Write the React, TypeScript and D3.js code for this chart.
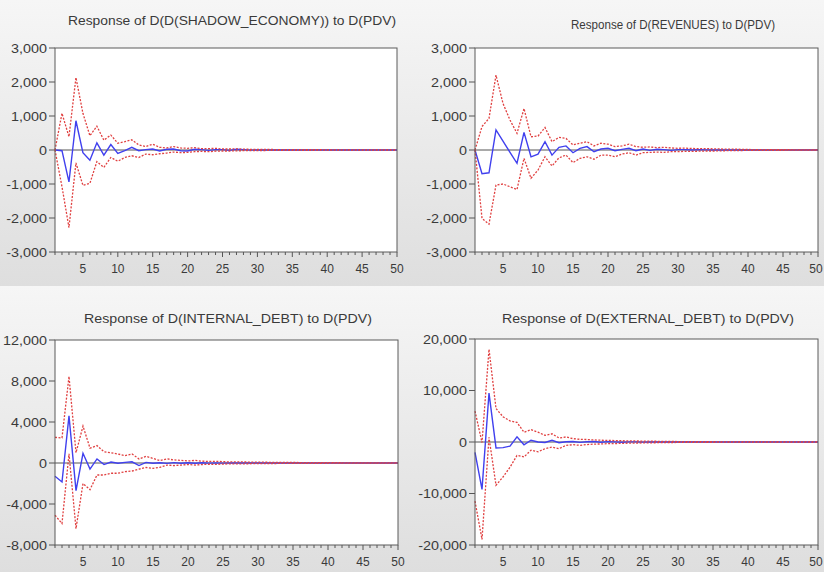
import React from "react";
import * as d3 from "d3";

// periods 1..50
const periods = d3.range(1, 51);

// Response of D(D(SHADOW_ECONOMY)) to D(PDV)
const shadowResp = [0, -20, -940, 860, -80, -300, 210, -150, 160, -100, -20, 80, -20, 10, 30, -30, 20, 30, -20, -30, 20, 10, -10, 10, 10, -10, 20, 10, -5, 5, 0, 0, 0, 0, 0, 0, 0, 0, 0, 0, 0, 0, 0, 0, 0, 0, 0, 0, 0, 0];
const shadowUpper = [0, 1080, 390, 2130, 1080, 420, 700, 290, 440, 200, 245, 300, 150, 100, 170, 80, 60, 100, 60, 50, 70, 40, 40, 50, 30, 30, 35, 25, 20, 20, 15, 15, 12, 12, 10, 10, 8, 8, 7, 6, 6, 5, 5, 4, 4, 4, 3, 3, 3, 3];
const shadowLower = [0, -1080, -2280, -380, -1040, -980, -340, -510, -220, -330, -220, -170, -220, -120, -140, -110, -90, -60, -80, -70, -50, -40, -50, -35, -30, -30, -25, -20, -20, -15, -15, -12, -12, -10, -10, -8, -8, -7, -6, -6, -5, -5, -4, -4, -4, -3, -3, -3, -3, -3];

// Response of D(REVENUES) to D(PDV)
const revResp = [0, -700, -670, 590, 260, -70, -390, 520, -200, -120, 245, -150, 80, 120, -80, 50, 100, -50, 30, 50, -20, 20, 50, -20, 30, -10, 20, 10, -10, 10, 10, 0, 10, 5, 0, 5, 0, 0, 0, 0, 0, 0, 0, 0, 0, 0, 0, 0, 0, 0];
const revUpper = [0, 690, 930, 2200, 1370, 880, 490, 1220, 390, 410, 660, 245, 370, 340, 150, 200, 245, 120, 200, 170, 100, 120, 170, 100, 80, 90, 70, 80, 60, 50, 55, 45, 40, 40, 35, 30, 25, 25, 20, 15, 12, 10, 10, 8, 8, 7, 6, 6, 5, 5];
const revLower = [0, -2010, -2180, -1030, -1000, -1080, -1160, -245, -830, -590, -200, -470, -230, -150, -370, -245, -200, -270, -150, -150, -200, -120, -80, -150, -80, -70, -60, -70, -50, -50, -40, -40, -35, -30, -30, -25, -20, -18, -15, -12, -10, -10, -8, -8, -7, -6, -6, -5, -5, -5];

// Response of D(INTERNAL_DEBT) to D(PDV)
const intResp = [-1300, -1850, 4600, -2700, 950, -600, 400, -150, 100, -30, 60, 120, -250, 60, -30, 20, -40, 40, -20, 30, -20, 20, -10, 15, -10, 10, -5, 10, -5, 5, 0, 0, 0, 0, 0, 0, 0, 0, 0, 0, 0, 0, 0, 0, 0, 0, 0, 0, 0, 0];
const intUpper = [2500, 2450, 8450, 1000, 3600, 1450, 1700, 1100, 1000, 880, 720, 880, 400, 650, 450, 230, 400, 300, 250, 200, 250, 180, 150, 170, 130, 110, 120, 100, 90, 80, 75, 65, 60, 55, 50, 45, 40, 35, 30, 28, 25, 22, 20, 18, 15, 12, 10, 10, 8, 8];
const intLower = [-5100, -5900, 900, -6400, -2000, -2600, -1170, -1170, -1000, -1000, -850, -780, -600, -430, -520, -420, -200, -250, -200, -150, -200, -150, -120, -130, -100, -90, -90, -80, -70, -60, -55, -50, -45, -40, -38, -35, -30, -28, -25, -22, -20, -18, -16, -14, -12, -10, -10, -8, -8, -7];

// Response of D(EXTERNAL_DEBT) to D(PDV)
const extResp = [-2000, -9200, 9500, -1150, -1100, -800, 1000, -550, 350, 0, -100, 330, -130, 50, 100, -80, 60, 100, -60, 80, 30, -40, 30, 20, -20, 15, 10, -10, 10, 5, 0, 0, 0, 0, 0, 0, 0, 0, 0, 0, 0, 0, 0, 0, 0, 0, 0, 0, 0, 0];
const extUpper = [6000, -100, 18000, 6500, 4900, 4100, 3800, 1900, 2400, 1900, 1300, 1600, 780, 980, 650, 520, 480, 400, 350, 300, 280, 250, 220, 200, 180, 160, 140, 120, 100, 90, 80, 70, 60, 50, 45, 40, 35, 30, 25, 22, 20, 18, 15, 12, 10, 10, 8, 8, 6, 6];
const extLower = [-11500, -18900, 900, -8400, -6800, -4900, -2600, -2900, -1600, -1900, -1300, -1000, -1300, -650, -520, -650, -500, -400, -380, -320, -300, -260, -230, -200, -180, -160, -140, -120, -100, -90, -80, -70, -60, -50, -45, -40, -35, -30, -25, -22, -20, -18, -15, -12, -10, -10, -8, -8, -6, -6];

const xTickLabels = [5, 10, 15, 20, 25, 30, 35, 40, 45, 50];
const ticksSmall = [-3000, -2000, -1000, 0, 1000, 2000, 3000];
const ticksInternal = [-8000, -4000, 0, 4000, 8000, 12000];
const ticksExternal = [-20000, -10000, 0, 10000, 20000];

const fmt = d3
  .formatLocale({ decimal: ".", thousands: ",", grouping: [3], currency: ["$", ""], minus: "-" })
  .format(",");

const panels = [
  { title: "Response of D(D(SHADOW_ECONOMY)) to D(PDV)", resp: shadowResp, upper: shadowUpper, lower: shadowLower, ticks: ticksSmall, box: [55, 48, 397, 252], titleX: 232, titleY: 25, titleW: 328, titleSize: 13.5 },
  { title: "Response of D(REVENUES) to D(PDV)", resp: revResp, upper: revUpper, lower: revLower, ticks: ticksSmall, box: [475, 48, 818, 252], titleX: 673, titleY: 28.5, titleW: 204, titleSize: 12.5 },
  { title: "Response of D(INTERNAL_DEBT) to D(PDV)", resp: intResp, upper: intUpper, lower: intLower, ticks: ticksInternal, box: [55, 340, 398, 545], titleX: 228, titleY: 323, titleW: 288, titleSize: 13.5 },
  { title: "Response of D(EXTERNAL_DEBT) to D(PDV)", resp: extResp, upper: extUpper, lower: extLower, ticks: ticksExternal, box: [475, 339, 818, 545], titleX: 648, titleY: 323, titleW: 292, titleSize: 13.5 },
];

const font = "'Liberation Sans', Arial, sans-serif";

function Panel({ p }) {
  const [l, t, r, b] = p.box;
  const x = d3.scaleLinear().domain([1, 50]).range([l, r]);
  const y = d3.scaleLinear().domain(d3.extent(p.ticks)).range([b, t]);
  const line = d3
    .line<number>()
    .x((_, i) => x(periods[i]))
    .y((d) => y(d));

  return (
    <g>
      <text
        x={p.titleX}
        y={p.titleY}
        textAnchor="middle"
        fontSize={p.titleSize}
        fontFamily={font}
        fill="#3a3a3a"
        textLength={p.titleW}
        lengthAdjust="spacingAndGlyphs"
      >
        {p.title}
      </text>
      <rect x={l} y={t} width={r - l} height={b - t} fill="#fff" />
      {/* y ticks */}
      {p.ticks.map((v) => (
        <g key={v}>
          <line x1={l - 6} x2={l} y1={y(v)} y2={y(v)} stroke="#555" />
          <text
            transform={`translate(${l - 8},${y(v) + 4.5}) scale(1.15,1)`}
            textAnchor="end"
            fontSize={12.5}
            fontFamily={font}
            fill="#3a3a3a"
          >
            {fmt(v)}
          </text>
        </g>
      ))}
      {/* x ticks */}
      {periods.map((d) => (
        <line key={d} x1={x(d)} x2={x(d)} y1={b} y2={b + (d % 5 === 0 ? 5 : 3)} stroke="#555" />
      ))}
      {xTickLabels.map((d) => {
        const cx = Math.min(x(d), 816);
        return (
          <text key={d} x={cx} y={b + 21} textAnchor="middle" fontSize={12} fontFamily={font} fill="#3a3a3a">
            {d}
          </text>
        );
      })}
      <line x1={l} x2={r} y1={y(0)} y2={y(0)} stroke="#555" strokeWidth={1} />
      <path d={line(p.resp) ?? ""} fill="none" stroke="#4040ee" strokeWidth={1.4} />
      <path d={line(p.upper) ?? ""} fill="none" stroke="#e04040" strokeWidth={1.3} strokeDasharray="2,1.5" />
      <path d={line(p.lower) ?? ""} fill="none" stroke="#e04040" strokeWidth={1.3} strokeDasharray="2,1.5" />
      <rect x={l} y={t} width={r - l} height={b - t} fill="none" stroke="#5a5a5a" strokeWidth={1} />
    </g>
  );
}

export default function App() {
  return (
    <svg width={824} height={572} style={{ position: "absolute", left: 0, top: 0 }}>
      <defs>
        <linearGradient id="bg" x1="0" y1="0" x2="0" y2="1">
          <stop offset="0" stopColor="#f6f6f6" />
          <stop offset="1" stopColor="#dedede" />
        </linearGradient>
      </defs>
      <rect x={0} y={0} width={824} height={286} fill="url(#bg)" />
      <rect x={0} y={286} width={824} height={286} fill="url(#bg)" />
      {panels.map((p) => (
        <Panel key={p.title} p={p} />
      ))}
    </svg>
  );
}
